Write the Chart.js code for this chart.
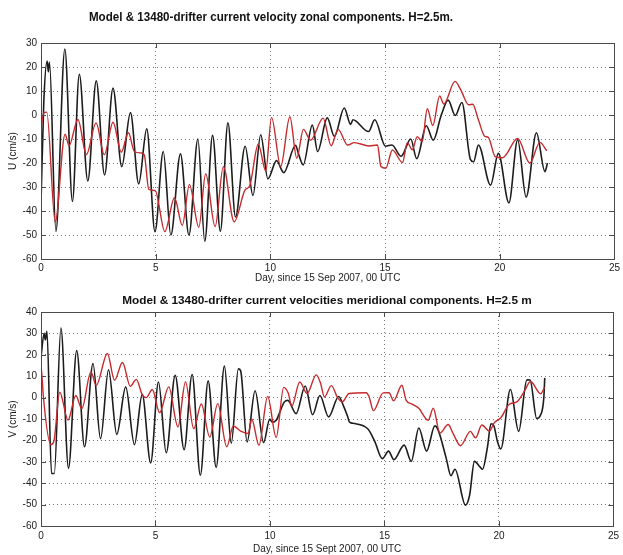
<!DOCTYPE html>
<html>
<head>
<meta charset="utf-8">
<script src="https://cdn.jsdelivr.net/npm/chart.js@4"></script>
<style>
  body { margin: 0; background: #fff; }
  #fig { position: relative; width: 623px; height: 555px; background: #fff; }
  #fig canvas { position: absolute; left: 0; }
  .ttl { position: absolute; font-family: 'Liberation Sans', Arial, sans-serif; font-weight: bold; color: #111; white-space: nowrap; z-index: 2; }
</style>
</head>
<body>
<div id="fig">
  <div class="ttl" style="left:271px; top:16px; font-size:13.5px; transform: translate(-50%, -50%) scaleX(0.86);">Model &amp; 13480-drifter current velocity zonal components. H=2.5m.</div>
  <canvas id="uChart" width="623" height="285" style="top:0"></canvas>
  <div class="ttl" style="left:327px; top:300px; font-size:11.8px; transform: translate(-50%, -50%);">Model &amp; 13480-drifter current velocities meridional components. H=2.5 m</div>
  <canvas id="vChart" width="623" height="270" style="top:285px"></canvas>
</div>
<script>
// zonal component (U), drifter = black, model = red
const uDrifterDays = [0.0, 0.12, 0.27, 0.32, 0.37, 0.65, 1.04, 1.37, 1.67, 2.04, 2.41, 2.77, 3.14, 3.52, 3.9, 4.26, 4.61, 4.97,
  5.33, 5.66, 6.08, 6.45, 6.84, 7.14, 7.48, 7.82, 8.15, 8.48, 8.9, 9.24, 9.58, 9.89, 10.27, 10.58, 11.1, 11.22, 11.43, 11.83,
  12.06, 12.48, 12.79, 13.22, 13.5, 13.6, 14.28, 14.55, 15.02, 15.3, 15.7, 16.12, 16.38, 16.8, 17.1, 17.45, 17.75, 18.06,
  18.35, 18.72, 18.86, 19.07, 19.6, 19.94, 20.4, 20.78, 21.15, 21.6, 21.97, 22.08];
const uDrifter = [-37, 5, 22.5, 18, 22, -48.5, 27.5, -36, 17, -27.5, 14.2, -25, 11.2, -21.5, 1, -28.7, -5.8, -48.6,
  -15.2, -50, -16.2, -50, -10, -52.6, -8.5, -48.4, -3.3, -42.5, -13, -33.5, -8.2, -26.6, -19, -24, -12.6, -16, -20.8, -4.2,
  -15.2, -1.2, -8.9, 2.9, -3.9, -2, -6.9, -2, -13, -12.5, -17.2, -10, -18.2, -4.5, -10.5, 0, 6.2, -0.2,
  5.2, -18.5, -19.5, -12.5, -29.2, -16, -36.6, -10.3, -34.2, -7.4, -23.6, -20];

const uModelDays = [0.0, 0.12, 0.25, 0.62, 1.05, 1.22, 1.61, 1.98, 2.4, 2.76, 3.14, 3.5, 3.81, 4.07, 4.35, 4.5, 4.7, 4.98,
  5.4, 5.82, 6.16, 6.47, 6.88, 7.18, 7.59, 7.95, 8.42, 8.9, 9.1, 9.47, 9.8, 10.05, 10.45, 10.85, 11.15, 11.44, 11.75, 12.3,
  12.65, 12.95, 13.37, 13.66, 14.3, 14.67, 14.82, 15.03, 15.32, 15.76, 15.97, 16.19, 16.4, 16.62, 16.84, 17.08, 17.38,
  17.56, 18.05, 18.3, 18.64, 18.82, 19.07, 19.35, 19.5, 19.8, 20.12, 20.78, 21.31, 21.75, 22.05];
const uModel = [-5, 0.8, 1.2, -44.5, -8, -12.8, -1.9, -16.5, -3.3, -16.5, -3, -15.5, -7.4, -15.2, -15.8, -16.5, -31, -31.5,
  -48.6, -34.5, -46, -29, -46.8, -24.5, -46.5, -21.5, -44.5, -31.2, -29.5, -12.2, -23.3, -1, -21.5, -0.7, -18, -6, -10.5, -1.3,
  -12.8, -6, -12.5, -11.5, -12.9, -12.5, -21.5, -22.2, -14.6, -19.8, -11.5, -14.5, -9, -11, 2.6, -4.4, 7.9,
  4.6, 14, 10.5, 4.3, 4.5, -2, -8.9, -9.3, -17.3, -17.8, -9.8, -20, -11.4, -14.9];

// meridional component (V)
const vDrifterDays = [0.0, 0.14, 0.19, 0.26, 0.46, 0.58, 0.87, 1.2, 1.56, 1.9, 2.27, 2.6, 2.95, 3.31, 3.7, 4.08, 4.42, 4.79,
  5.13, 5.47, 5.86, 6.25, 6.6, 6.96, 7.3, 7.65, 8.01, 8.31, 8.62, 8.72, 9.0, 9.35, 9.72, 9.99, 10.1, 10.27, 10.63, 10.78,
  11.14, 11.54, 11.86, 12.18, 12.56, 13.0, 13.2, 13.38, 13.47, 13.62, 14.28, 14.57, 14.91, 15.18, 15.41, 15.86, 16.17, 16.5,
  16.84, 17.2, 17.35, 17.7, 17.9, 18.08, 18.54, 18.72, 18.93, 19.18, 19.28, 19.5, 19.65, 19.77, 19.94, 20.08, 20.5, 20.86,
  21.22, 21.36, 21.65, 21.8, 21.96, 22.0];
const vDrifter = [19, 30, 27, 31, -35.5, -35.5, 32.5, -33, 22, -23, 15.9, -19.2, 13, -17.2, 5, -22, 1.5, -30.5,
  7.3, -25.8, 10.4, -24.3, 10.8, -36.3, 7.8, -32.6, 14.7, -21.3, 13.4, 12.5, -20.7, 3.2, -21, -10, -11.5, -10.6, -2, -1.3,
  -7.5, 5.4, -8, 1, -9, 0.5, -3.6, -8.5, -11.4, -12, -14.7, -20.3, -28.5, -25, -29, -22.2, -29.8, -14.2,
  -25, -13.2, -15.3, -28.5, -36.5, -33.5, -50.3, -45.5, -29.8, -32.5, -33.5, -23, -12.2, -13, -20.7, -24, 3.8, -15.8,
  8.3, 8.2, -9.8, -8.5, 0, 9.2];

const vModelDays = [0.0, 0.06, 0.1, 0.43, 0.56, 0.82, 1.18, 1.52, 1.78, 2.18, 2.41, 2.9, 3.21, 3.56, 3.9, 4.16, 4.43, 4.6,
  4.86, 5.18, 5.58, 5.98, 6.31, 6.67, 7.0, 7.37, 7.72, 8.11, 8.4, 8.72, 9.05, 9.2, 9.52, 9.9, 10.27, 10.6, 10.8, 10.95,
  11.3, 11.62, 12.02, 12.2, 12.38, 12.68, 12.95, 13.16, 13.45, 14.2, 14.32, 14.52, 14.94, 15.2, 15.4, 15.76, 15.95, 16.2,
  16.5, 16.91, 17.13, 17.42, 17.78, 17.99, 18.32, 18.75, 18.98, 19.25, 19.58, 19.8, 20.09, 20.45, 20.78, 21.1, 21.38,
  21.82, 21.99];
const vModel = [15, 7.5, 1, -22, -20.5, 2.5, -10.5, 1, -5.2, 12, 5.7, 20.6, 8.1, 16.4, 5.3, 8.5, 1.1, 0,
  3.8, -7, 5, -13.7, 7.3, -14.5, -3, -18.4, -2.8, -23, -13.3, -15.7, -16.8, -10, -22.3, 0.5, -18.6, 4.8, 2, -4,
  7.3, 1.9, 10.6, 7, 0.3, 5.6, 0, -2, 1.9, 2.3, 0.6, -6.1, 2.2, 2.3, -1.5, 5.8, -1.3, -3,
  -5, -10.6, -5, -16.6, -12.6, -16.6, -22.5, -15.8, -18.8, -12.8, -15.6, -11.7, -9.3, -3.1, -2, 2.8, 7.5,
  1.8, 4.8];

const dayMin = 0, dayMax = 25, dayStep = 5;

Chart.defaults.font.family = "'Liberation Sans', Arial, sans-serif";
Chart.defaults.font.size = 10;
Chart.defaults.color = '#1a1a1a';

function toPoints(days, vals) {
  return days.map((d, i) => ({ x: d, y: vals[i] }));
}

// MATLAB-like boxed axes with inward tick marks
const axesBox = {
  id: 'axesBox',
  afterDatasetsDraw(chart) {
    const { ctx, chartArea: a, scales } = chart;
    ctx.save();
    ctx.strokeStyle = '#4a4a4a';
    ctx.lineWidth = 1;
    ctx.strokeRect(Math.round(a.left) + 0.5, Math.round(a.top) + 0.5, Math.round(a.width), Math.round(a.height));
    ctx.beginPath();
    scales.x.ticks.forEach(t => {
      const px = Math.round(scales.x.getPixelForValue(t.value)) + 0.5;
      ctx.moveTo(px, a.bottom); ctx.lineTo(px, a.bottom - 5);
      ctx.moveTo(px, a.top); ctx.lineTo(px, a.top + 5);
    });
    scales.y.ticks.forEach(t => {
      const py = Math.round(scales.y.getPixelForValue(t.value)) + 0.5;
      ctx.moveTo(a.left, py); ctx.lineTo(a.left + 5, py);
      ctx.moveTo(a.right, py); ctx.lineTo(a.right - 5, py);
    });
    ctx.stroke();
    ctx.restore();
  }
};

function makeChart(id, drifter, model, yMin, yMax, yTitle, xTitle, padTop, xHeight, tickPad, titlePad) {
  return new Chart(document.getElementById(id), {
    type: 'line',
    data: {
      datasets: [
        { data: model, borderColor: '#c42a2e', borderWidth: 1.4 },
        { data: drifter, borderColor: '#1c1c1c', borderWidth: 1.6 },
      ],
    },
    options: {
      responsive: false,
      animation: false,
      devicePixelRatio: 1,
      cubicInterpolationMode: 'monotone',
      elements: { point: { radius: 0 } },
      layout: { padding: { top: padTop, right: 4, left: 0, bottom: 0 } },
      plugins: { legend: { display: false }, tooltip: { enabled: false } },
      scales: {
        x: {
          type: 'linear', min: dayMin, max: dayMax,
          ticks: { stepSize: dayStep, maxRotation: 0, autoSkip: false, padding: tickPad },
          grid: { color: '#7a7a7a', drawTicks: false },
          border: { display: false, dash: [1, 3] },
          title: { display: true, text: xTitle, padding: { top: 0, bottom: titlePad } },
          afterFit(scale) { scale.height = xHeight; },
        },
        y: {
          min: yMin, max: yMax,
          ticks: { stepSize: 10, padding: 4 },
          grid: { color: '#7a7a7a', drawTicks: false },
          border: { display: false, dash: [1, 3] },
          title: { display: true, text: yTitle, padding: { top: 7, bottom: 0 } },
          afterFit(scale) { scale.width = 41; },
        },
      },
    },
    plugins: [axesBox],
  });
}

makeChart('uChart', toPoints(uDrifterDays, uDrifter), toPoints(uModelDays, uModel),
  -60, 30, 'U (cm/s)', 'Day, since 15 Sep 2007, 00 UTC', 43, 26, 3, 1);
makeChart('vChart', toPoints(vDrifterDays, vDrifter), toPoints(vModelDays, vModel),
  -60, 40, 'V (cm/s)', 'Day, since 15 Sept 2007, 00 UTC', 27, 29, 4, 0);
</script>
</body>
</html>
